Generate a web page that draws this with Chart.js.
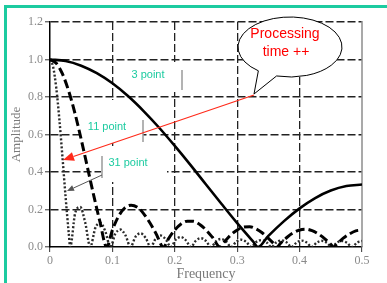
<!DOCTYPE html>
<html><head><meta charset="utf-8">
<script src="https://cdn.jsdelivr.net/npm/chart.js@4"></script>
<style>html,body{margin:0;padding:0;background:#fff;overflow:hidden}#wrap{width:387px;height:283px;position:relative}</style>
</head><body><div id="wrap"><canvas id="c" width="387" height="283"></canvas></div>
<script>
const xTickLabels = ['0','0.1','0.2','0.3','0.4','0.5'];
const yTickLabels = ['0.0','0.2','0.4','0.6','0.8','1.0','1.2'];
const seriesNames = ['3 point','11 point','31 point'];

const freq3 = [0,0.025,0.05,0.075,0.1,0.125,0.15,0.175,0.2,0.225,0.25,0.275,0.3,0.325,0.3333,0.35,0.375,0.4,0.425,0.45,0.475,0.5];
const amp3  = [1,0.992,0.967,0.927,0.873,0.805,0.725,0.636,0.539,0.438,0.333,0.229,0.127,0.031,0,0.059,0.138,0.206,0.261,0.301,0.325,0.333];

const freq11 = [0,0.01,0.02,0.03,0.04,0.05,0.06,0.07,0.08,0.0909,
  0.10,0.11,0.12,0.13,0.14,0.15,0.16,0.17,0.1818,
  0.19,0.20,0.21,0.22,0.23,0.24,0.25,0.26,0.2727,
  0.28,0.29,0.30,0.31,0.32,0.33,0.34,0.35,0.36,0.3636,
  0.37,0.38,0.39,0.40,0.41,0.42,0.43,0.44,0.45,0.4545,
  0.46,0.47,0.48,0.49,0.50];
const amp11 = [1,0.980,0.923,0.831,0.713,0.574,0.425,0.276,0.135,0,
  0.091,0.165,0.209,0.223,0.212,0.178,0.129,0.071,0,
  0.045,0.091,0.123,0.138,0.137,0.120,0.091,0.053,0,
  0.029,0.065,0.091,0.106,0.108,0.097,0.076,0.046,0.013,0,
  0.022,0.052,0.076,0.091,0.095,0.087,0.070,0.045,0.014,0,
  0.017,0.047,0.070,0.086,0.091];

const freq31 = [0,0.005,0.01,0.015,0.02,0.025,0.03,0.0323,
  0.0403,0.0484,0.0565,0.0645, 0.0726,0.0806,0.0887,0.0968,
  0.1048,0.1129,0.1210,0.1290, 0.1371,0.1452,0.1532,0.1613,
  0.1694,0.1774,0.1855,0.1935, 0.2016,0.2097,0.2177,0.2258,
  0.2339,0.2419,0.2500,0.2581, 0.2661,0.2742,0.2823,0.2903,
  0.2984,0.3065,0.3145,0.3226, 0.3306,0.3387,0.3468,0.3548,
  0.3629,0.3710,0.3790,0.3871, 0.3952,0.4032,0.4113,0.4194,
  0.4274,0.4355,0.4435,0.4516, 0.4597,0.4677,0.4758,0.4839,
  0.4919,0.5];
const amp31 = [1,0.961,0.849,0.681,0.478,0.267,0.075,0,
  0.180,0.213,0.129,0, 0.101,0.129,0.083,0,
  0.071,0.093,0.062,0, 0.055,0.073,0.049,0,
  0.045,0.061,0.041,0, 0.039,0.053,0.036,0,
  0.034,0.047,0.032,0, 0.031,0.043,0.029,0,
  0.028,0.039,0.027,0, 0.027,0.037,0.026,0,
  0.025,0.035,0.025,0, 0.024,0.034,0.024,0,
  0.023,0.033,0.023,0, 0.023,0.032,0.023,0,
  0.023,0.032];

const pts = (fs, as) => fs.map((f, i) => ({x: f, y: as[i]}));

const TEAL = '#1ccba0';

const deco = {
  id: 'deco',
  beforeDraw(chart) {
    const c = chart.ctx;
    c.save(); c.fillStyle = '#fff'; c.fillRect(0, 0, chart.width, chart.height); c.restore();
  },
  beforeDatasetsDraw(chart) {
    const c = chart.ctx, a = chart.chartArea;
    c.save();
    c.strokeStyle = '#8c8c8c'; c.lineWidth = 1.5;
    c.beginPath(); c.moveTo(a.right, a.top - 1); c.lineTo(a.right, a.bottom); c.stroke();
    c.fillStyle = '#fff';
    c.fillRect(123, 62, 60, 30);
    c.fillRect(83, 100, 60, 43);
    c.fillRect(101, 146, 66, 36);
    c.restore();
  },
  afterDraw(chart) {
    const c = chart.ctx;
    c.save();
    // label pointer lines
    c.strokeStyle = '#9a9a9a'; c.lineWidth = 1.5;
    c.beginPath();
    c.moveTo(182, 70); c.lineTo(182, 90);
    c.moveTo(143, 120); c.lineTo(143, 142);
    c.moveTo(102, 156); c.lineTo(102, 178);
    c.stroke();
    // gray arrow for 31 point
    arrow(c, 102, 175, 67, 191, '#555', 1, 7, 3);
    // labels
    c.fillStyle = TEAL; c.font = '11px "Liberation Sans", Arial, sans-serif';
    c.textAlign = 'center'; c.textBaseline = 'middle';
    c.fillText(seriesNames[0], 148, 75);
    c.fillText(seriesNames[1], 107, 127);
    c.fillText(seriesNames[2], 128, 163);
    // red arrow
    arrow(c, 254, 95, 63, 160, '#ff2a1a', 1.2, 11, 4.5);
    // bubble
    const cx = 290, cy = 47, rx = 52, ry = 30;
    c.beginPath();
    c.ellipse(cx, cy, rx, ry, 0, 127.5 * Math.PI / 180, 105 * Math.PI / 180);
    c.lineTo(254, 94);
    c.closePath();
    c.fillStyle = '#fff'; c.fill();
    c.strokeStyle = '#000'; c.lineWidth = 1; c.stroke();
    c.fillStyle = '#ff0000'; c.font = '14px "Liberation Sans", Arial, sans-serif';
    c.fillText('Processing', 285, 34);
    c.fillText('time ++', 286, 52);
    // teal frame
    c.fillStyle = TEAL;
    c.fillRect(4, 5, 3, 280);
    c.fillRect(4, 5, 390, 3);
    c.restore();
  }
};

function arrow(c, x1, y1, x2, y2, color, w, len, half) {
  const ang = Math.atan2(y2 - y1, x2 - x1);
  const bx = x2 - len * Math.cos(ang), by = y2 - len * Math.sin(ang);
  c.save();
  c.strokeStyle = color; c.fillStyle = color; c.lineWidth = w;
  c.beginPath(); c.moveTo(x1, y1); c.lineTo(bx, by); c.stroke();
  c.beginPath();
  c.moveTo(x2, y2);
  c.lineTo(bx + half * Math.sin(ang), by - half * Math.cos(ang));
  c.lineTo(bx - half * Math.sin(ang), by + half * Math.cos(ang));
  c.closePath(); c.fill();
  c.restore();
}

const tickFont = { family: '"Liberation Serif", "Times New Roman", serif', size: 12 };

new Chart(document.getElementById('c'), {
  type: 'line',
  data: {
    datasets: [
      { label: seriesNames[0], data: pts(freq3, amp3), borderColor: '#000', borderWidth: 2.6, pointRadius: 0, cubicInterpolationMode: 'monotone', fill: false },
      { label: seriesNames[1], data: pts(freq11, amp11), borderColor: '#000', borderWidth: 3, borderDash: [9, 4], pointRadius: 0, cubicInterpolationMode: 'monotone', fill: false },
      { label: seriesNames[2], data: pts(freq31, amp31), borderColor: '#2a2a2a', borderWidth: 2.4, borderDash: [2, 2], pointRadius: 0, cubicInterpolationMode: 'monotone', fill: false }
    ]
  },
  options: {
    responsive: false,
    animation: false,
    devicePixelRatio: 1,
    layout: { padding: { left: 0, top: 22, right: 25, bottom: 0 } },
    plugins: { legend: { display: false }, tooltip: { enabled: false } },
    scales: {
      x: {
        type: 'linear', min: 0, max: 0.5,
        afterFit: s => { s.height = 36; },
        ticks: { stepSize: 0.1, color: '#8a8a8a', font: tickFont, padding: 2, maxRotation: 0,
          callback: (v, i) => xTickLabels[i] },
        grid: { color: ctx => (ctx.tick && (ctx.tick.value === 0 || Math.abs(ctx.tick.value - 0.5) < 1e-9)) ? 'rgba(0,0,0,0)' : '#222',
          lineWidth: 1.3, tickLength: 5, tickColor: '#333', tickWidth: 1 },
        border: { display: true, color: '#000', width: 1.5, dash: [8, 3] },
        title: { display: true, text: 'Frequency', color: '#7a7a7a', font: { family: '"Liberation Serif", "Times New Roman", serif', size: 14 }, padding: { top: 0, bottom: 0 } }
      },
      y: {
        type: 'linear', min: 0, max: 1.2,
        afterFit: s => { s.width = 50; },
        ticks: { stepSize: 0.2, color: '#8a8a8a', font: tickFont, padding: 2,
          callback: (v, i) => yTickLabels[i] },
        grid: { color: ctx => (ctx.tick && ctx.tick.value === 0) ? 'rgba(0,0,0,0)' : '#222',
          lineWidth: 1.6, tickLength: 5, tickColor: '#333', tickWidth: 1 },
        border: { display: true, color: '#000', width: 1.5, dash: [8, 3] },
        title: { display: true, text: 'Amplitude', color: '#7a7a7a', font: { family: '"Liberation Serif", "Times New Roman", serif', size: 13 }, padding: { top: 9, bottom: 0 } }
      }
    }
  },
  plugins: [deco]
});
</script>
</body></html>
